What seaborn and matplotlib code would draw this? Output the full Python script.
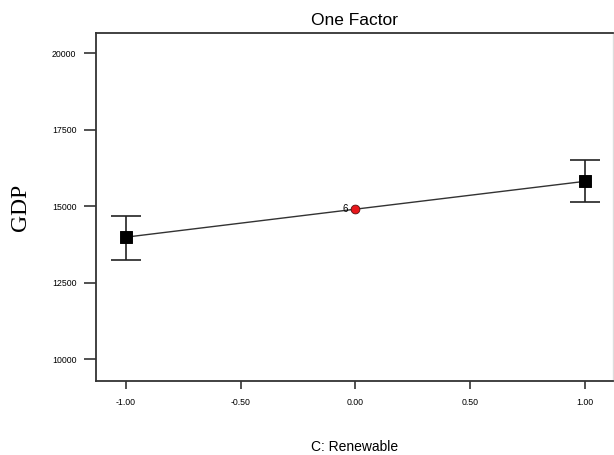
import matplotlib
matplotlib.use("Agg")
import matplotlib.pyplot as plt
import seaborn as sns
import pandas as pd

# Data
factor_levels = [-1.0, 0.0, 1.0]
gdp_predicted = [13990, 14905, 15815]
end_levels = [-1.0, 1.0]
end_gdp = [13990, 15815]
end_err_low = [745, 690]
end_err_high = [690, 710]
center_level = [0.0]
center_gdp = [14920]
center_count = ["6"]
x_ticks = [-1.0, -0.5, 0.0, 0.5, 1.0]
x_tick_labels = ["-1.00", "-0.50", "0.00", "0.50", "1.00"]
y_ticks = [10000, 12500, 15000, 17500, 20000]
y_tick_labels = ["10000", "12500", "15000", "17500", "20000"]

sns.set_theme(style="white")
plt.rcParams['font.family'] = ['Liberation Sans', 'DejaVu Sans']
plt.rcParams['text.color'] = 'black'
plt.rcParams['axes.labelcolor'] = 'black'
plt.rcParams['xtick.color'] = 'black'
plt.rcParams['ytick.color'] = 'black'

fig = plt.figure(figsize=(6.14, 4.55), dpi=100)
ax = fig.add_axes([0.156, 0.163, 0.842, 0.764])

df_line = pd.DataFrame({"C": factor_levels, "GDP": gdp_predicted})
sns.lineplot(data=df_line, x="C", y="GDP", ax=ax, color="#333333", linewidth=1.0)

ax.errorbar(end_levels, end_gdp, yerr=[end_err_low, end_err_high], fmt="none",
            ecolor="#222222", elinewidth=1.2, capsize=11, capthick=1.2, zorder=3)
df_end = pd.DataFrame({"C": end_levels, "GDP": end_gdp})
sns.scatterplot(data=df_end, x="C", y="GDP", ax=ax, marker="s", s=70,
                color="black", edgecolor="black", zorder=4)
df_c = pd.DataFrame({"C": center_level, "GDP": center_gdp})
sns.scatterplot(data=df_c, x="C", y="GDP", ax=ax, marker="o", s=40,
                color="#e8161b", edgecolor="#551111", linewidth=0.6, zorder=5)
for xv, yv, lab in zip(center_level, center_gdp, center_count):
    ax.annotate(lab, (xv, yv), xytext=(-5, 0), textcoords="offset points",
                ha="right", va="center", fontsize=7, color="black")

ax.set_xlim(-1.13, 1.12)
ax.set_ylim(9300, 20650)
ax.set_xticks(x_ticks)
ax.set_xticklabels(x_tick_labels)
ax.set_yticks(y_ticks)
ax.set_yticklabels(y_tick_labels)
ax.tick_params(axis="x", direction="out", length=6, width=1.2, color="#333333",
               labelsize=6.3, pad=6, bottom=True)
ax.tick_params(axis="y", direction="out", length=9, width=1.2, color="#333333",
               labelsize=6.3, pad=5, left=True)

for side in ["left", "bottom", "top"]:
    ax.spines[side].set_color("#333333")
    ax.spines[side].set_linewidth(1.3)
ax.spines["right"].set_color("#dddddd")
ax.spines["right"].set_linewidth(1.0)

ax.set_title("One Factor", fontsize=12.5, pad=6, color="black")
ax.set_xlabel("C: Renewable", fontsize=10, labelpad=24)
ax.set_ylabel("GDP", fontsize=17, family=["Liberation Serif", "DejaVu Serif"], labelpad=15)

fig.savefig("out.png", dpi=100)
